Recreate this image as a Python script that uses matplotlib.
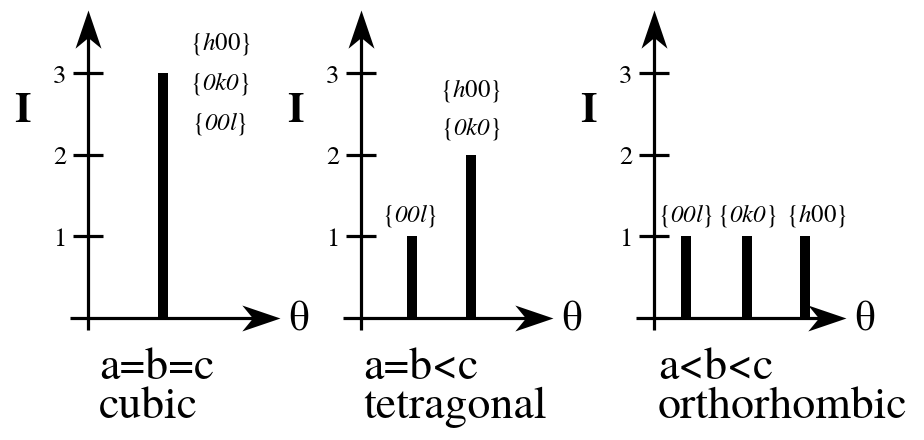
import numpy as np
import matplotlib
matplotlib.use('Agg')
import matplotlib.pyplot as plt
from matplotlib.path import Path

serif = ['TeX Gyre Termes', 'Liberation Serif', 'DejaVu Serif']
plt.rcParams['font.family'] = serif
plt.rcParams['mathtext.fontset'] = 'custom'
plt.rcParams['mathtext.rm'] = 'TeX Gyre Termes'
plt.rcParams['mathtext.it'] = 'TeX Gyre Termes:italic'
plt.rcParams['mathtext.bf'] = 'TeX Gyre Termes:bold'
# 'it' 不会把数字变斜体, 借用 sf 放斜体字形
plt.rcParams['mathtext.sf'] = 'TeX Gyre Termes:italic'

# 各晶系的衍射峰位置(任意单位)与强度
theta_cubic = [7.5]
I_cubic = [3]
theta_tetra = [5.1, 11.0]
I_tetra = [1, 2]
theta_ortho = [3.2, 9.3, 15.1]
I_ortho = [1, 1, 1]

# 峰的标注
H00 = r'$\{h\mathrm{00}\}$'
K0 = r'$\{\mathsf{0k0}\}$'
L00 = r'$\{\mathsf{00l}\}$'

cell_rel = ['a=b=c', 'a=b<c', 'a<b<c']
cell_name = ['cubic', 'tetragonal', 'orthorhombic']
yticks = [1, 2, 3]

# 箭头形状 (stealth)
head_right = Path([(0, 0), (-1, 0.34), (-0.72, 0), (-1, -0.34), (0, 0)],
                  [Path.MOVETO, Path.LINETO, Path.LINETO, Path.LINETO, Path.CLOSEPOLY])
head_up = Path([(0, 0), (0.34, -1), (0, -0.72), (-0.34, -1), (0, 0)],
               [Path.MOVETO, Path.LINETO, Path.LINETO, Path.LINETO, Path.CLOSEPOLY])

fig = plt.figure(figsize=(9.24, 4.40), dpi=100)
lefts = [0.00866, 0.3041, 0.6212]
axes = [fig.add_axes([l, 0.01795, 0.3355, 0.9725]) for l in lefts]

lw = 2.3
x_tip, y_tip = 19.2, 3.78
for ax in axes:
    ax.set_xlim(-8, 23)
    ax.set_ylim(-1.4, 3.85)
    ax.patch.set_visible(False)
    for s in ax.spines.values():
        s.set_visible(False)
    ax.spines['left'].set_position(('data', 0))
    ax.set_xticks([])
    ax.set_yticks(yticks)
    ax.tick_params(axis='y', direction='inout', length=21.6, width=lw, pad=5, labelsize=19)
    # 坐标轴与箭头
    ax.plot([-1.8, x_tip - 2], [0, 0], color='k', lw=lw, solid_capstyle='butt')
    ax.plot([0, 0], [-0.15, y_tip - 0.25], color='k', lw=lw, solid_capstyle='butt')
    ax.plot([x_tip], [0], marker=head_right, ms=55, color='k', mew=0, clip_on=False)
    ax.plot([0], [y_tip], marker=head_up, ms=55, color='k', mew=0, clip_on=False)
    ax.text(21.1, -0.03, 'θ', fontsize=31, ha='center', va='center')
    ax.text(-6.6, 2.53, 'I', fontsize=30, fontweight='bold', ha='center', va='center')

ax1, ax2, ax3 = axes
bw = 1.0
ax1.bar(theta_cubic, I_cubic, width=bw, color='k')
ax2.bar(theta_tetra, I_tetra, width=bw, color='k')
ax3.bar(theta_ortho, I_ortho, width=bw, color='k')

fs_lab = 18
# cubic: 三个标注叠在峰的右边
for i, lab in enumerate([H00, K0, L00]):
    ax1.text(theta_cubic[0] + 5.7, I_cubic[0] + 0.37 - 0.49 * i, lab, fontsize=fs_lab, ha='center', va='center')
# tetragonal
ax2.text(theta_tetra[0] - 0.2, I_tetra[0] + 0.26, L00, fontsize=fs_lab, ha='center', va='center')
ax2.text(theta_tetra[1], I_tetra[1] + 0.79, H00, fontsize=fs_lab, ha='center', va='center')
ax2.text(theta_tetra[1], I_tetra[1] + 0.33, K0, fontsize=fs_lab, ha='center', va='center')
# orthorhombic
for x, y, lab, dx in zip(theta_ortho, I_ortho, [L00, K0, H00], [0, 0, 1.2]):
    ax3.text(x + dx, y + 0.26, lab, fontsize=fs_lab, ha='center', va='center')

text_x = [1.1, 0.2, 0.4]
for ax, rel, name, tx in zip(axes, cell_rel, cell_name, text_x):
    ax.text(tx, -0.75, rel, fontsize=33, ha='left', va='baseline')
    ax.text(tx, -1.23, name, fontsize=33, ha='left', va='baseline')

plt.savefig('out.png', dpi=100)
